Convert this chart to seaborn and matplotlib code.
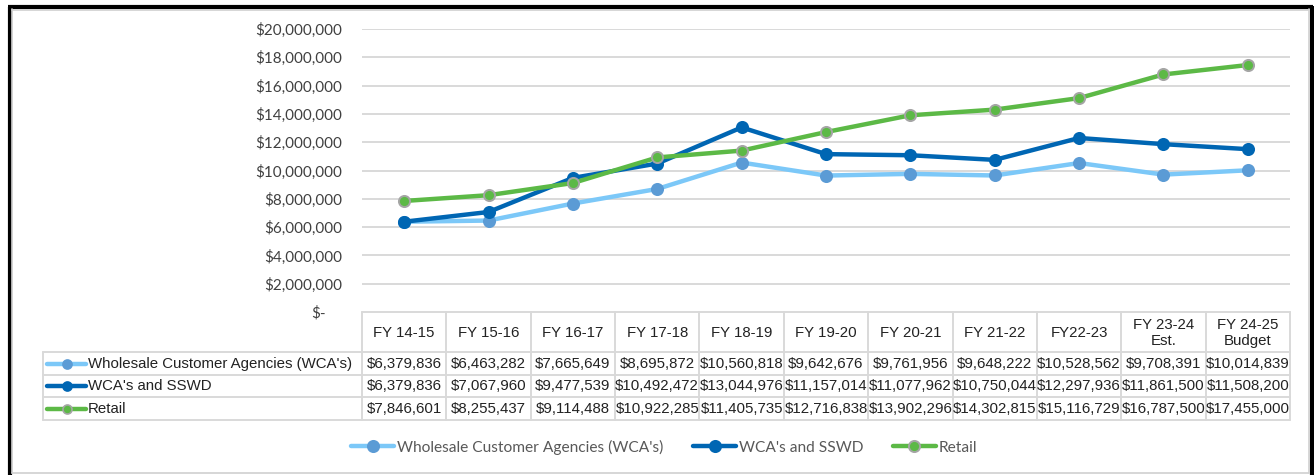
import numpy as np
import pandas as pd
import matplotlib
matplotlib.use("Agg")
import matplotlib.pyplot as plt
import matplotlib.transforms as mtransforms
from matplotlib.lines import Line2D
import seaborn as sns

# ---------------- data ----------------
years = ["FY 14-15", "FY 15-16", "FY 16-17", "FY 17-18", "FY 18-19", "FY 19-20",
         "FY 20-21", "FY 21-22", "FY22-23", "FY 23-24\nEst.", "FY 24-25\nBudget"]
series_names = ["Wholesale Customer Agencies (WCA's)", "WCA's and SSWD", "Retail"]
wca = [6379836, 6463282, 7665649, 8695872, 10560818, 9642676, 9761956, 9648222,
       10528562, 9708391, 10014839]
wca_sswd = [6379836, 7067960, 9477539, 10492472, 13044976, 11157014, 11077962,
            10750044, 12297936, 11861500, 11508200]
retail = [7846601, 8255437, 9114488, 10922285, 11405735, 12716838, 13902296,
          14302815, 15116729, 16787500, 17455000]
y_ticks = [0, 2000000, 4000000, 6000000, 8000000, 10000000, 12000000, 14000000,
           16000000, 18000000, 20000000]

values = [wca, wca_sswd, retail]
df = pd.DataFrame({
    "year": years * 3,
    "series": [n for n in series_names for _ in years],
    "value": wca + wca_sswd + retail,
})

# ---------------- styles ----------------
line_colors = ["#7CC8F8", "#0066B3", "#5CB946"]
marker_face = ["#5B9BD5", "#0066B3", "#5CB946"]
marker_edge = ["#5B9BD5", "#0066B3", "#A5A5A5"]

sns.set_theme(style="white")
plt.rcParams["font.family"] = ["Lato", "DejaVu Sans"]

W, H = 1314, 475
fig = plt.figure(figsize=(W / 100, H / 100), dpi=100)
fig.patch.set_facecolor("white")

# pixel layout of plot area
px_left, px_right, px_top, px_bottom = 362, 1290, 29, 312
ax = fig.add_axes([px_left / W, 1 - px_bottom / H,
                   (px_right - px_left) / W, (px_bottom - px_top) / H])
ax.set_facecolor("none")

handles = []
for i, name in enumerate(series_names):
    sub = df[df["series"] == name]
    sns.lineplot(data=sub, x="year", y="value", ax=ax, sort=False,
                 color=line_colors[i], linewidth=3.2, marker="o", markersize=8,
                 markerfacecolor=marker_face[i], markeredgecolor=marker_edge[i],
                 markeredgewidth=1.4, legend=False, zorder=3 + i)
    handles.append(Line2D([], [], color=line_colors[i], linewidth=3.2, marker="o",
                          markersize=8, markerfacecolor=marker_face[i],
                          markeredgecolor=marker_edge[i], markeredgewidth=1.4))

ax.set_xlim(-0.5, len(years) - 0.5)
ax.set_ylim(0, 20000000)
ax.set_yticks(y_ticks)
ax.set_yticklabels(["$-"] + ["${:,.0f}".format(v) for v in y_ticks[1:]],
                   fontsize=11, color="#404040")
ax.tick_params(axis="y", length=0, pad=14)
ax.tick_params(axis="x", length=0, labelbottom=False)
for t in ax.get_yticklabels():
    if t.get_text() == "$-":
        t.set_transform(t.get_transform() + mtransforms.ScaledTranslation(-17 / 100, 0, fig.dpi_scale_trans))
ax.set_xlabel("")
ax.set_ylabel("")
for s in ax.spines.values():
    s.set_visible(False)
for v in y_ticks[1:]:
    ax.axhline(v, color="#D9D9D9", linewidth=1.4, zorder=1)

# ---------------- overlay (pixel coordinates) ----------------
ov = fig.add_axes([0, 0, 1, 1], zorder=-1)
ov.set_xlim(0, W)
ov.set_ylim(H, 0)
ov.axis("off")

# frame
ov.plot([9.5, 9.5], [475, 7], color="black", lw=3.0, solid_capstyle="butt")
ov.plot([8, 1313], [7, 7], color="black", lw=3.0, solid_capstyle="butt")
ov.plot([1312, 1312], [6, 475], color="black", lw=3.0, solid_capstyle="butt")
ov.plot([12, 12], [9, 473], color="#D0D0D0", lw=1.2)
ov.plot([12, 1309], [9.5, 9.5], color="#D0D0D0", lw=1.2)
ov.plot([1309, 1309], [9, 473], color="#D0D0D0", lw=1.2)
ov.plot([12, 1309], [473, 473], color="#D0D0D0", lw=1.2)

# data table
grid_c = "#D9D9D9"
hdr_top, hdr_bot = 312, 352
row_edges = [352, 374.5, 397, 420]
lbl_left = 43
tab = mtransforms.blended_transform_factory(ax.transData, ov.transData)
n = len(years)
ov.plot([px_left, px_right], [hdr_top, hdr_top], color=grid_c, lw=1.4)
for yv in row_edges:
    ov.plot([lbl_left, px_right], [yv, yv], color=grid_c, lw=1.4)
for k in range(n + 1):
    ov.plot([k - 0.5, k - 0.5], [hdr_top, row_edges[-1]], color=grid_c, lw=1.4,
            transform=tab)
ov.plot([lbl_left, lbl_left], [row_edges[0], row_edges[-1]], color=grid_c, lw=1.4)

tfont = ["Liberation Sans", "DejaVu Sans"]
for k, lab in enumerate(years):
    ov.text(k, (hdr_top + hdr_bot) / 2 + 1, lab, transform=tab, ha="center",
            va="center", fontsize=10.8, family=tfont, color="#222222",
            linespacing=1.2)
for r, vals in enumerate(values):
    yc = (row_edges[r] + row_edges[r + 1]) / 2 + 0.5
    for k, v in enumerate(vals):
        ov.text(k, yc, "${:,.0f}".format(v), transform=tab, ha="center",
                va="center", fontsize=10.8, family=tfont, color="#222222")
    ov.plot([47, 86], [yc, yc], color=line_colors[r], lw=3.2, solid_capstyle="round")
    ov.plot([66.5], [yc], marker="o", markersize=6.5, color=marker_face[r],
            markeredgecolor=marker_edge[r], markeredgewidth=1.2)
    ov.text(88, yc, series_names[r], ha="left", va="center", fontsize=10.8,
            family=tfont, color="#222222")

# legend
leg = fig.legend(handles, series_names, loc="center", ncol=3,
                 bbox_to_anchor=(664 / W, 1 - 447 / H), frameon=False,
                 fontsize=11.2, handlelength=2.8, handletextpad=0.15,
                 columnspacing=1.9)
for t in leg.get_texts():
    t.set_color("#595959")

fig.savefig("out.png", dpi=100, facecolor="white")
